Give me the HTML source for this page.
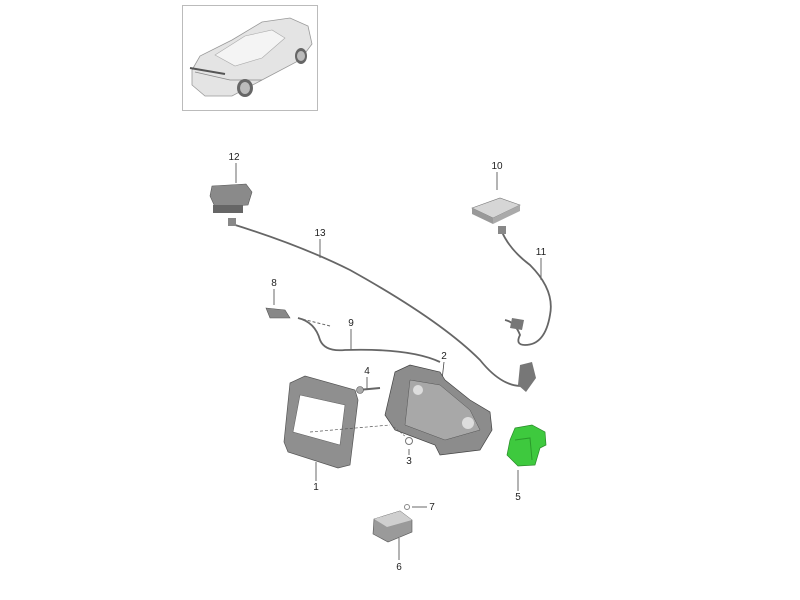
<!DOCTYPE html>
<html><head><style>
html,body{margin:0;padding:0;background:#fff;width:800px;height:600px;overflow:hidden}
text{font-family:"Liberation Sans",sans-serif;font-size:10px;fill:#222}
</style></head><body>
<svg width="800" height="600" viewBox="0 0 800 600" xmlns="http://www.w3.org/2000/svg">
<!-- car thumbnail -->
<rect x="182.5" y="5.5" width="135" height="105" fill="#fff" stroke="#bbb"/>
<g>
<path d="M192 70 L200 56 L232 40 L262 22 L290 18 L308 26 L312 44 L300 60 L262 80 L232 96 L205 96 L192 85 Z" fill="#e4e4e4" stroke="#999" stroke-width="0.8"/>
<path d="M215 55 L245 36 L272 30 L285 38 L262 58 L235 66 Z" fill="#f4f4f4" stroke="#aaa" stroke-width="0.6"/>
<path d="M195 72 L230 80 L262 80" fill="none" stroke="#888" stroke-width="0.8"/>
<ellipse cx="245" cy="88" rx="8" ry="9" fill="#666"/>
<ellipse cx="245" cy="88" rx="5" ry="6" fill="#bbb"/>
<ellipse cx="301" cy="56" rx="6" ry="8" fill="#666"/>
<ellipse cx="301" cy="56" rx="4" ry="5" fill="#bbb"/>
<path d="M190 68 L225 74" stroke="#555" stroke-width="2"/>
</g>

<g stroke="#444" stroke-width="0.8" fill="none">
<!-- leader lines -->
<line x1="236" y1="163" x2="236" y2="183"/>
<line x1="497" y1="172" x2="497" y2="190"/>
<line x1="320" y1="239" x2="320" y2="258"/>
<line x1="541" y1="258" x2="541" y2="280"/>
<line x1="274" y1="289" x2="274" y2="305"/>
<line x1="351" y1="329" x2="351" y2="350"/>
<line x1="367" y1="377" x2="367" y2="390"/>
<line x1="444" y1="362" x2="442" y2="380"/>
<line x1="409" y1="449" x2="409" y2="455"/>
<line x1="316" y1="462" x2="316" y2="481"/>
<line x1="518" y1="470" x2="518" y2="491"/>
<line x1="412" y1="507" x2="427" y2="507"/>
<line x1="399" y1="538" x2="399" y2="560"/>
</g>
<!-- cables -->
<g fill="none" stroke="#666" stroke-width="1.8">
<path d="M232 224 Q300 245 350 270 Q440 320 480 360 Q500 385 520 386 Q535 384 530 375"/>
<path d="M502 232 Q510 250 530 265 Q555 290 550 315 Q545 345 525 345 Q515 345 520 335 Q515 322 505 320"/>
<path d="M298 318 Q315 322 320 340 Q325 352 345 350 Q410 348 440 362"/>
</g>
<path d="M298 318 L330 326" stroke="#666" stroke-width="1" stroke-dasharray="3 2" fill="none"/>
<!-- part 12 -->
<path d="M212 186 L246 184 L252 192 L248 205 L215 207 L210 196 Z" fill="#8a8a8a" stroke="#555" stroke-width="0.6"/>
<rect x="213" y="205" width="30" height="8" fill="#666"/>
<rect x="228" y="218" width="8" height="8" fill="#888"/>
<!-- part 10 -->
<path d="M472 208 L500 198 L520 205 L493 218 Z" fill="#d6d6d6" stroke="#777" stroke-width="0.6"/>
<path d="M472 208 L493 218 L493 224 L472 214 Z" fill="#999"/>
<path d="M493 218 L520 205 L520 211 L493 224 Z" fill="#aaa"/>
<rect x="498" y="226" width="8" height="8" fill="#888"/>
<!-- part 8 -->
<path d="M266 308 L285 310 L290 318 L270 318 Z" fill="#888" stroke="#555" stroke-width="0.6"/>
<!-- connector on cable 13 -->
<path d="M520 365 L532 362 L536 378 L526 392 L518 385 Z" fill="#777"/>
<path d="M512 318 L524 320 L522 330 L510 328 Z" fill="#777"/>
<!-- part 1 frame -->
<path d="M290 383 L305 376 L355 390 L358 400 L350 465 L338 468 L288 452 L284 442 Z" fill="#8f8f8f" stroke="#555" stroke-width="0.7"/>
<path d="M300 395 L345 405 L340 445 L293 432 Z" fill="#fff" stroke="#666" stroke-width="0.6"/>
<path d="M310 432 L390 425" stroke="#555" stroke-width="0.7" stroke-dasharray="3 2"/>
<!-- part 2 bracket -->
<path d="M395 372 L410 365 L440 372 L445 380 L470 400 L490 412 L492 430 L480 450 L440 455 L435 445 L395 430 L385 415 Z" fill="#8c8c8c" stroke="#444" stroke-width="0.7"/>
<path d="M410 380 L440 385 L470 410 L480 430 L445 440 L405 425 Z" fill="#a8a8a8" stroke="#555" stroke-width="0.5"/>
<circle cx="418" cy="390" r="5" fill="#ddd"/>
<circle cx="468" cy="423" r="6" fill="#ddd"/>
<!-- part 4 screw -->
<path d="M358 390 L380 388" stroke="#666" stroke-width="2"/>
<circle cx="360" cy="390" r="3.5" fill="#aaa" stroke="#555" stroke-width="0.6"/>
<!-- part 3 -->
<circle cx="409" cy="441" r="3.5" fill="#fff" stroke="#777"/>
<path d="M394 427 L406 437" stroke="#666" stroke-dasharray="2 2" stroke-width="0.7"/>
<!-- part 5 green -->
<path d="M515 428 L532 425 L545 432 L546 445 L540 448 L535 465 L518 466 L507 455 L510 440 Z" fill="#3ec93e" stroke="#2a8a2a" stroke-width="0.7"/>
<path d="M515 440 L530 438 L532 460" fill="none" stroke="#2a9a2a" stroke-width="1"/>
<!-- part 6 box -->
<path d="M374 519 L400 511 L412 520 L412 532 L388 542 L373 534 Z" fill="#9a9a9a" stroke="#555" stroke-width="0.6"/>
<path d="M374 519 L400 511 L412 520 L387 527 Z" fill="#cfcfcf"/>
<circle cx="407" cy="507" r="2.5" fill="#fff" stroke="#888"/>
<!-- labels -->
<text x="234" y="160" text-anchor="middle">12</text>
<text x="497" y="169" text-anchor="middle">10</text>
<text x="320" y="236" text-anchor="middle">13</text>
<text x="541" y="255" text-anchor="middle">11</text>
<text x="274" y="286" text-anchor="middle">8</text>
<text x="351" y="326" text-anchor="middle">9</text>
<text x="367" y="374" text-anchor="middle">4</text>
<text x="444" y="359" text-anchor="middle">2</text>
<text x="409" y="464" text-anchor="middle">3</text>
<text x="316" y="490" text-anchor="middle">1</text>
<text x="518" y="500" text-anchor="middle">5</text>
<text x="432" y="510" text-anchor="middle">7</text>
<text x="399" y="570" text-anchor="middle">6</text>
</svg>
</body></html>
